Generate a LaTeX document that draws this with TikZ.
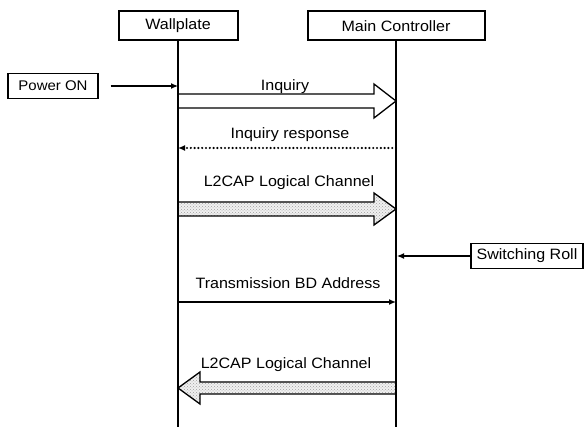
\documentclass[tikz,border=0pt]{standalone}
\usepackage{fontspec}
\setmainfont{Liberation Sans}[FakeStretch=1.07]
\usetikzlibrary{positioning, calc, patterns, arrows.meta}

% wide arrow: [style]{tail}{tip}{shaft half width}{head half width}
\newcommand{\fatarrow}[5][hollow]{%
  \coordinate (notch) at ($(#3)!22pt!(#2)$);
  \draw[#1] ($(#2)+(0,-#4)$) -- ($(notch)+(0,-#4)$) -- ($(notch)+(0,-#5)$) -- (#3)
    -- ($(notch)+(0,#5)$) -- ($(notch)+(0,#4)$) -- ($(#2)+(0,#4)$);
}

\begin{document}
\begin{tikzpicture}[
    x=1pt, y=-1pt,
    font=\fontsize{15}{17}\selectfont,
    entity/.style={rectangle, draw, line width=2pt, minimum height=29pt, inner sep=0pt},
    trigger/.style={rectangle, draw, line width=1.2pt, minimum height=25pt, inner sep=0pt},
    lifeline/.style={line width=2.8pt},
    msg/.style={anchor=base},
    hollow/.style={line width=1.3pt, line join=miter},
    hatched/.style={hollow, preaction={fill=gray!12}, pattern=crosshatch dots, pattern color=gray!75},
    >={Latex[length=7pt, width=6pt]}
]
\useasboundingbox (0,0) rectangle (584,427);

% Entities
\node[entity, minimum width=119pt] (wall) at (178,26) {Wallplate};
\node[entity, minimum width=177pt] (ctrl) at (396,26) {Main Controller};
\coordinate (wall-end) at (178,427);
\coordinate (ctrl-end) at (396,427);

% Outside events
\node[trigger, minimum width=90pt, font=\fontsize{14}{16}\selectfont] (power) at (53,86) {Power ON};
\node[trigger, minimum width=112pt] (roll) at (527,256) {Switching Roll};
\draw[->, line width=1.2pt, shorten <=12pt] (power.east) -- (power.east -| wall);
\draw[->, line width=1.2pt, shorten >=1pt] (roll.west) -- (roll.west -| ctrl);

% Message end points
\foreach \m/\y in {inq/101, resp/148, lfwd/209, bd/302, lback/388} {
    \coordinate (\m-w) at (wall |- 0,\y);
    \coordinate (\m-c) at (ctrl |- 0,\y);
}

% Messages
\node[msg] (inq-lbl) at (285,91) {Inquiry};
\fatarrow{inq-w}{inq-c}{7}{17}

\node[msg] (resp-lbl) at (290,139) {Inquiry response};
\draw[->, line width=2.4pt, dash pattern=on 0pt off 3.8pt, line cap=round] (resp-c) -- (resp-w);

\node[msg] (lfwd-lbl) at (289,187) {L2CAP Logical Channel};
\fatarrow[hatched]{lfwd-w}{lfwd-c}{7}{16}

\node[msg] (bd-lbl) at (288,289) {Transmission BD Address};
\draw[->, line width=2pt] (bd-w) -- (bd-c);

\node[msg] (lback-lbl) at (286,369) {L2CAP Logical Channel};
\fatarrow[hatched]{lback-c}{lback-w}{6}{16}

% Lifelines on top
\draw[lifeline] (wall) -- (wall-end);
\draw[lifeline] (ctrl) -- (ctrl-end);
\end{tikzpicture}
\end{document}
